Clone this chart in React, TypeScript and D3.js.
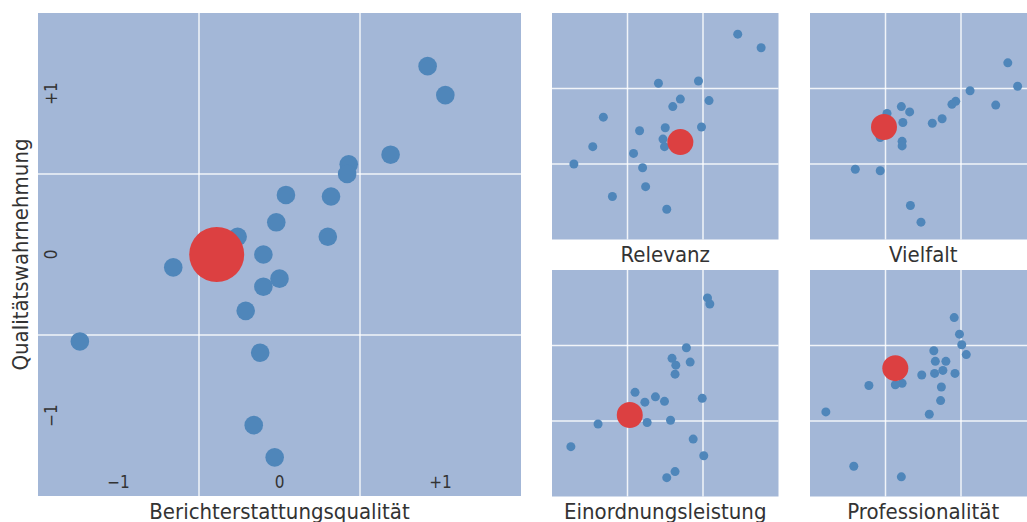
import React from "react";
import * as d3 from "d3";

type Pt = [number, number];

// Main chart: Berichterstattungsqualität (x) vs Qualitätswahrnehmung (y)
const mainPoints: Pt[] = [
  [0.92, 1.17], [1.03, 0.99], [0.69, 0.62], [0.43, 0.56], [0.42, 0.5],
  [0.04, 0.37], [0.32, 0.36], [-0.02, 0.2], [-0.26, 0.11], [0.3, 0.11],
  [-0.1, 0.0], [-0.66, -0.08], [0.0, -0.15], [-0.1, -0.2], [-0.21, -0.35],
  [-1.24, -0.54], [-0.12, -0.61], [-0.16, -1.06], [-0.03, -1.26],
];
const mainHighlight: Pt = [-0.39, 0.0];

const relevanzPoints: Pt[] = [
  [0.96, 1.22], [1.27, 1.04], [-0.09, 0.57], [0.44, 0.6], [0.2, 0.36],
  [0.58, 0.34], [0.1, 0.26], [-0.82, 0.12], [-0.34, -0.06], [0.0, -0.02],
  [0.48, -0.01], [-0.03, -0.17], [-0.01, -0.27], [-0.96, -0.27], [-0.42, -0.36],
  [-1.21, -0.5], [-0.3, -0.55], [-0.26, -0.8], [-0.7, -0.93], [0.02, -1.1],
];
const relevanzHighlight: Pt = [0.2, -0.21];

const vielfaltPoints: Pt[] = [
  [1.12, 0.84], [1.25, 0.53], [0.62, 0.47], [0.96, 0.28], [0.43, 0.33],
  [0.38, 0.29], [0.25, 0.1], [0.12, 0.04], [-0.29, 0.26], [-0.18, 0.19],
  [-0.48, 0.17], [-0.27, 0.05], [-0.57, -0.15], [-0.28, -0.2], [-0.28, -0.26],
  [-0.9, -0.57], [-0.57, -0.59], [-0.17, -1.05], [-0.03, -1.27],
];
const vielfaltHighlight: Pt = [-0.52, -0.01];

const einordnungPoints: Pt[] = [
  [0.56, 1.13], [0.59, 1.05], [0.28, 0.47], [0.09, 0.33], [0.33, 0.28],
  [0.14, 0.24], [0.13, 0.12], [-0.4, -0.12], [-0.13, -0.18], [-0.27, -0.25],
  [-0.01, -0.24], [0.49, -0.2], [0.07, -0.49], [-0.24, -0.52], [-0.89, -0.54],
  [-1.25, -0.84], [0.37, -0.74], [0.51, -0.96], [0.13, -1.17], [0.02, -1.25],
];
const einordnungHighlight: Pt = [-0.47, -0.42];

const professionalitaetPoints: Pt[] = [
  [0.41, 0.87], [0.48, 0.65], [0.51, 0.51], [0.57, 0.38], [0.14, 0.43],
  [0.16, 0.29], [0.3, 0.29], [0.26, 0.17], [0.15, 0.13], [-0.02, 0.11],
  [0.42, 0.13], [0.24, -0.05], [0.23, -0.23], [0.08, -0.41], [-0.28, 0.0],
  [-0.37, -0.02], [-0.72, -0.03], [-1.29, -0.38], [-0.92, -1.1], [-0.29, -1.24],
];
const professionalitaetHighlight: Pt = [-0.37, 0.2];

const domain: [number, number] = [-1.5, 1.5];
const gridValues = [-0.5, 0.5];
const tickValues = [-1, 0, 1];
const tickLabels = ["\u22121", "0", "+1"];

const xTitle = "Berichterstattungsqualität";
const yTitle = "Qualitätswahrnehmung";

const BG = "#a3b7d7";
const DOT = "#4f86ba";
const RED = "#dc4041";
const TEXT = "#333333";
const FONT = "'DejaVu Sans', sans-serif";

interface PanelProps {
  x0: number;
  y0: number;
  size: number;
  points: Pt[];
  highlight: Pt;
  r: number;
  rHi: number;
  title?: string;
}

function Panel({ x0, y0, size, points, highlight, r, rHi, title }: PanelProps) {
  const x = d3.scaleLinear().domain(domain).range([x0, x0 + size]);
  const y = d3.scaleLinear().domain(domain).range([y0 + size, y0]);
  return (
    <g>
      <rect x={x0} y={y0} width={size} height={size} fill={BG} />
      {gridValues.map((v) => (
        <line key={"gx" + v} x1={x(v)} x2={x(v)} y1={y0} y2={y0 + size} stroke="#ffffff" strokeWidth={1.5} strokeOpacity={0.85} />
      ))}
      {gridValues.map((v) => (
        <line key={"gy" + v} x1={x0} x2={x0 + size} y1={y(v)} y2={y(v)} stroke="#ffffff" strokeWidth={1.5} strokeOpacity={0.85} />
      ))}
      {points.map((p, i) => (
        <circle key={i} cx={x(p[0])} cy={y(p[1])} r={r} fill={DOT} />
      ))}
      <circle cx={x(highlight[0])} cy={y(highlight[1])} r={rHi} fill={RED} />
      {title && (
        <text x={x0 + size / 2} y={y0 + size + 22} textAnchor="middle" fontFamily={FONT} fontSize={22} fill={TEXT} style={{ fontStretch: "condensed" }}>
          {title}
        </text>
      )}
    </g>
  );
}

export default function App() {
  const mx0 = 38, my0 = 13, msize = 483;
  const x = d3.scaleLinear().domain(domain).range([mx0, mx0 + msize]);
  const y = d3.scaleLinear().domain(domain).range([my0 + msize, my0]);
  const s = 226.5;
  return (
    <svg width={1027} height={522} style={{ position: "absolute", left: 0, top: 0 }}>
      <Panel x0={mx0} y0={my0} size={msize} points={mainPoints} highlight={mainHighlight} r={9.3} rHi={27.5} />
      {tickValues.map((v, i) => (
        <text key={"tx" + v} x={x(v)} y={488} textAnchor="middle" fontFamily={FONT} fontSize={17} fill={TEXT} style={{ fontStretch: "condensed" }}>
          {tickLabels[i]}
        </text>
      ))}
      {tickValues.map((v, i) => (
        <text key={"ty" + v} transform={`translate(57,${y(v)}) rotate(-90)`} textAnchor="middle" fontFamily={FONT} fontSize={17} fill={TEXT} style={{ fontStretch: "condensed" }}>
          {tickLabels[i]}
        </text>
      ))}
      <text x={mx0 + msize / 2} y={519} textAnchor="middle" fontFamily={FONT} fontSize={22} fill={TEXT} style={{ fontStretch: "condensed" }}>
        {xTitle}
      </text>
      <text transform={`translate(28,${my0 + msize / 2}) rotate(-90)`} textAnchor="middle" fontFamily={FONT} fontSize={22} fill={TEXT} style={{ fontStretch: "condensed" }}>
        {yTitle}
      </text>
      <Panel x0={552} y0={13} size={s} points={relevanzPoints} highlight={relevanzHighlight} r={4.5} rHi={13} title="Relevanz" />
      <Panel x0={810} y0={13} size={s} points={vielfaltPoints} highlight={vielfaltHighlight} r={4.5} rHi={13} title="Vielfalt" />
      <Panel x0={552} y0={270} size={s} points={einordnungPoints} highlight={einordnungHighlight} r={4.5} rHi={13} title="Einordnungsleistung" />
      <Panel x0={810} y0={270} size={s} points={professionalitaetPoints} highlight={professionalitaetHighlight} r={4.5} rHi={13} title="Professionalität" />
    </svg>
  );
}
